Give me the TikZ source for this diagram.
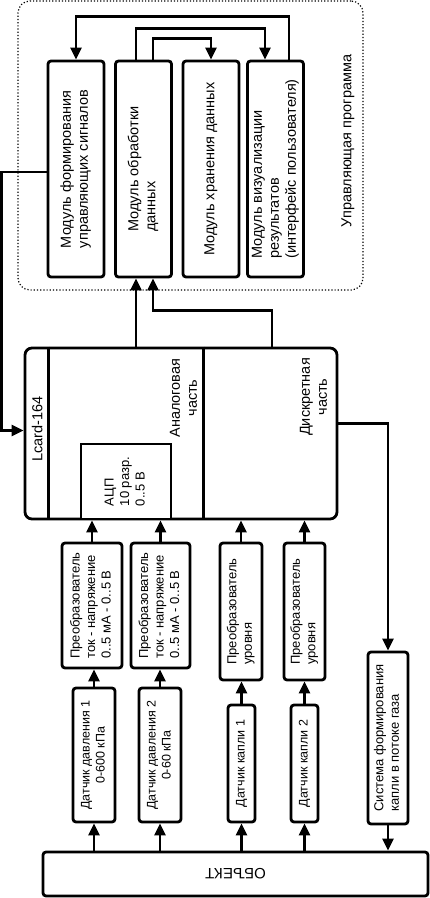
\documentclass[tikz,border=0pt]{standalone}
\usepackage{fontspec}
\setmainfont{Liberation Sans}
\usetikzlibrary{arrows.meta}

\newcommand{\vtxt}[1]{\rotatebox{90}{\begin{tabular}{@{}l@{}}#1\end{tabular}}}
\newcommand{\vtxtc}[1]{\rotatebox{90}{\begin{tabular}{@{}c@{}}#1\end{tabular}}}

\tikzset{
  blk/.style={draw, line width=2.8pt, rounded corners=3pt, inner sep=0pt, fill=white},
  modblk/.style={blk, minimum width=56pt, minimum height=216pt, font=\fontsize{14.5}{17}\selectfont},
  smallblk/.style={blk, font=\fontsize{13}{15.5}\selectfont},
  sensblk/.style={blk, font=\fontsize{12.5}{15}\selectfont},
  lbl/.style={inner sep=0pt, font=\fontsize{14.5}{17}\selectfont},
  arr/.style={line width=2.5pt, -{Triangle[length=12pt,width=11pt]}},
}

\begin{document}
\begin{tikzpicture}[x=1pt, y=-1pt]
      \useasboundingbox (0,0) rectangle (430,898);

      \node[draw, dotted, line width=1.2pt, rounded corners=12pt, minimum width=345pt, minimum height=289pt, inner sep=0pt] (prog) at (190.5,145.5) {};
      \node[lbl] (progname) at (348,141) {\vtxt{Управляющая программа}};

      \node[modblk] (mform)  at (76,169)    {\vtxt{Модуль формирования\\управляющих сигналов}};
      \node[modblk] (mproc)  at (143.5,169) {\vtxt{Модуль обработки\\данных}};
      \node[modblk] (mstore) at (211,169)   {\vtxt{Модуль хранения данных}};
      \node[modblk] (mvis)   at (275.5,169) {\vtxt{Модуль визуализации\\результатов\\(интерфейс пользователя)}};

      \node[blk, rounded corners=7pt, minimum width=312pt, minimum height=171pt] (lcard) at (181,433.5) {};
      \draw[line width=2.8pt] ([xshift=25pt]lcard.north west) -- ([xshift=25pt]lcard.south west);
      \draw[line width=2.8pt] ([xshift=180pt]lcard.north west) -- ([xshift=180pt]lcard.south west);
      \node[smallblk, sharp corners, minimum width=90pt, minimum height=75pt] (adc) at (126,481.5) {\vtxt{АЦП\\10 разр.\\0..5 В}};
      \node[lbl] (lcardname) at (39,429) {\vtxt{Lcard-164}};
      \node[lbl] (analog) at (185,398) {\vtxtc{Аналоговая\\часть}};
      \node[lbl] (discr)  at (315,397) {\vtxtc{Дискретная\\часть}};

      \node[smallblk, minimum width=60pt, minimum height=125pt] (convA) at (92,605.5)    {\vtxt{Преобразователь\\ток - напряжение\\0..5 мА - 0..5 В}};
      \node[smallblk, minimum width=59pt, minimum height=125pt] (convB) at (160.5,605.5) {\vtxt{Преобразователь\\ток - напряжение\\0..5 мА - 0..5 В}};
      \node[smallblk, minimum width=42pt, minimum height=137pt] (convC) at (241,611.5)   {\vtxt{Преобразователь\\уровня}};
      \node[smallblk, minimum width=41pt, minimum height=137pt] (convD) at (304.5,611.5) {\vtxt{Преобразователь\\уровня}};

      \node[sensblk, minimum width=42pt, minimum height=134pt] (sensA) at (94,755)      {\vtxtc{Датчик давления 1\\0-600 кПа}};
      \node[sensblk, minimum width=42pt, minimum height=134pt] (sensB) at (160,755)     {\vtxtc{Датчик давления 2\\0-60 кПа}};
      \node[sensblk, minimum width=27pt, minimum height=117pt] (sensC) at (241.5,763.5) {\vtxt{Датчик капли 1}};
      \node[sensblk, minimum width=27pt, minimum height=117pt] (sensD) at (304.5,763.5) {\vtxt{Датчик капли 2}};
      \node[smallblk, minimum width=40pt, minimum height=172pt] (sys) at (388,738) {\vtxt{Система формирования\\капли в потоке газа}};

      \node[blk, minimum width=385pt, minimum height=44pt, font=\fontsize{15}{18}\selectfont] (obj) at (235.5,874) {\rotatebox{180}{ОБЪЕКТ}};

      \draw[arr] ([xshift=13.5pt]mvis.north) -- ++(0,-43) -| (mform.north);
      \draw[arr] ([xshift=-7.5pt]mproc.north) -- ++(0,-31) -| ([xshift=-10.5pt]mvis.north);
      \draw[arr] ([xshift=9.5pt]mproc.north) -- ++(0,-21) -| (mstore.north);
      \draw[arr] ([yshift=-3pt]mform.west) -- ++(-45,0) |- ([yshift=3pt]lcard.west);

      \coordinate (pinL) at ([xshift=-7.5pt]mproc.south);
      \coordinate (pinR) at ([xshift=9.5pt]mproc.south);
      \draw[arr] (pinL |- lcard.north) -- (pinL);
      \draw[arr] ([xshift=91pt]lcard.north) -- ++(0,-36) -| (pinR);
      \draw[arr] ([yshift=10pt]lcard.east) -| (sys.north);

      \foreach \cn in {convA,convB,convC,convD}
        \draw[arr] (\cn.north) -- (\cn.north |- lcard.south);
      \foreach \sn/\cn in {sensA/convA,sensB/convB,sensC/convC,sensD/convD}
        \draw[arr] (\sn.north) -- (\sn.north |- \cn.south);
      \foreach \sn in {sensA,sensB,sensC,sensD}
        \draw[arr] (\sn.south |- obj.north) -- (\sn.south);
      \draw[arr] (sys.south) -- (sys.south |- obj.north);
\end{tikzpicture}
\end{document}
